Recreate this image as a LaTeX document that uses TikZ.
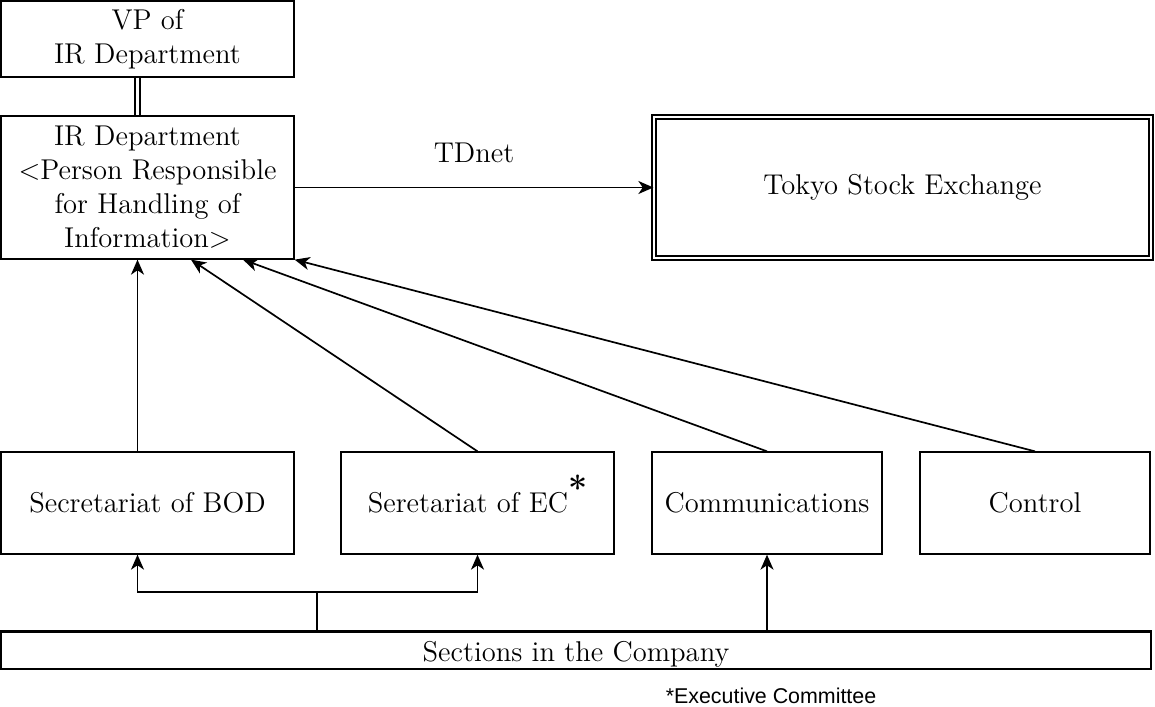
\documentclass[tikz,border=0pt]{standalone}
\usepackage{fontspec}
\newfontfamily\notefont{Liberation Sans}
\usetikzlibrary{arrows.meta}
\begin{document}
\begin{tikzpicture}[x=0.5pt,y=-0.5pt,
  box/.style={draw, line width=0.65pt, inner sep=0pt, align=center, font=\fontsize{14.3}{17}\selectfont},
  lbl/.style={font=\fontsize{14.3}{17}\selectfont, inner sep=0pt},
  arr/.style={-{Stealth[length=7.5pt,width=6.5pt,inset=2.2pt]}, line width=0.85pt},
  line/.style={line width=0.85pt}]
\useasboundingbox (0,0) rectangle (1155,706);
\node[box, minimum width=146.5pt, minimum height=38pt] (vp) at (147.5,39) {VP of\\IR Department};
\node[box, minimum width=146.5pt, minimum height=71.5pt] (ir) at (147.5,187.5) {IR Department\\{<}Person Responsible\\for Handling of\\Information{>}};
\node[box, double, double distance=1.4pt, minimum width=248.5pt, minimum height=70.5pt] (tse) at (902.5,187.5) {Tokyo Stock Exchange};
\node[lbl] (td) at (474,153) {TDnet};
\node[box, minimum width=146.5pt, minimum height=51pt] (bod) at (147.5,503) {Secretariat of BOD};
\node[box, minimum width=136.5pt, minimum height=51pt] (ec) at (477.5,503) {Seretariat of EC\smash{\raisebox{1.0ex}{\fontsize{17}{17}\selectfont\textbf{*}}}};
\node[box, minimum width=115pt, minimum height=51pt] (comm) at (767,503) {Communications};
\node[box, minimum width=115pt, minimum height=51pt] (ctrl) at (1035,503) {Control};
\node[box, minimum width=575pt, minimum height=18.5pt, text depth=0pt] (sec) at (576,650.5) {\raisebox{-1pt}{Sections in the Company}};
\draw[line width=1.3pt] (sec.north west) -- (sec.north east);
\node[font=\notefont\fontsize{10.7}{12}\selectfont, inner sep=0pt, anchor=base] (note) at (771,703) {*Executive Committee};
% connectors
\draw[line, double, double distance=1.6pt] ([xshift=-5pt]vp.south) -- ([xshift=-5pt]ir.north);
\draw[arr] (ir.east) -- (tse.west);
\draw[arr] ([xshift=-5pt]bod.north) -- ([xshift=-5pt]ir.south);
\draw[arr] (ec.north) -- ([xshift=21.75pt]ir.south);
\draw[arr] (comm.north) -- ([xshift=47.75pt]ir.south);
\draw[arr] (ctrl.north) -- (ir.south east);
\coordinate (j) at (317,592);
\draw[line] (j |- sec.north) -- (j);
\draw[arr] (j) -| ([xshift=-5pt]bod.south);
\draw[arr] (j) -| (ec.south);
\draw[arr] (comm.south |- sec.north) -- (comm.south);
\end{tikzpicture}
\end{document}
